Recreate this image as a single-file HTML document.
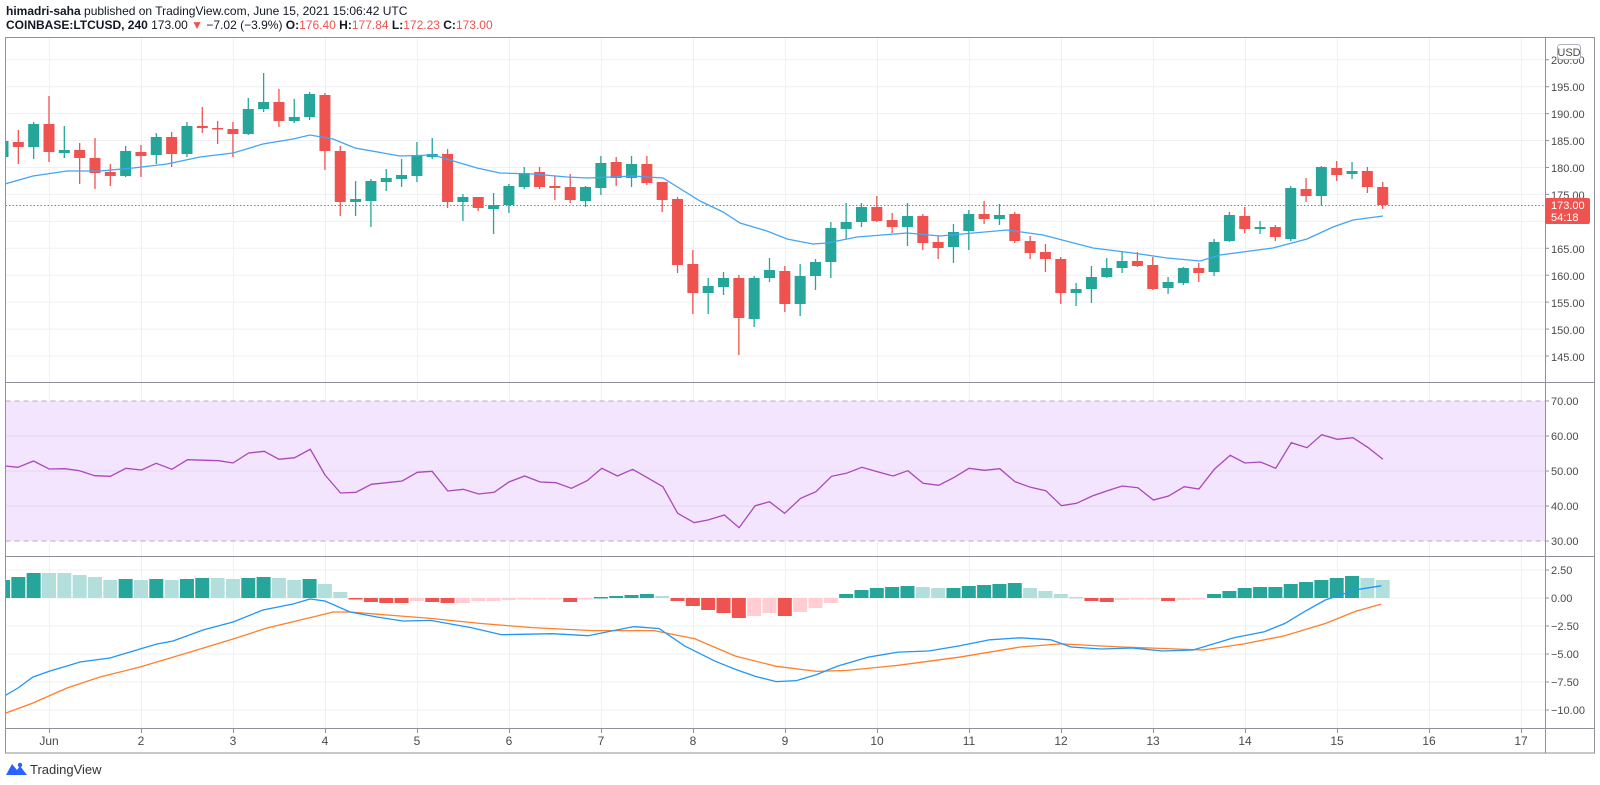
<!DOCTYPE html>
<html><head><meta charset="utf-8"><style>
html,body{margin:0;padding:0;background:#fff;width:1600px;height:785px;overflow:hidden}
svg{position:absolute;left:0;top:0}
text{font-family:"Liberation Sans",sans-serif}
</style></head><body>
<svg id="s" width="1600" height="785" viewBox="0 0 1600 785" xmlns="http://www.w3.org/2000/svg">
<defs>
<clipPath id="cm"><rect x="5.5" y="37" width="1539.5" height="345.5"/></clipPath>
<clipPath id="cr"><rect x="5.5" y="383" width="1539.5" height="172.5"/></clipPath>
<clipPath id="cd"><rect x="5.5" y="556.5" width="1539.5" height="171"/></clipPath>
</defs>
<rect x="5.5" y="37" width="1589" height="716" fill="#fff"/>
<g id="grid"></g>
<rect x="5.5" y="401" width="1539.5" height="140" fill="#f3e5fd"/>
<g id="rgrid"></g>
<line x1="5.5" y1="401" x2="1545" y2="401" stroke="#b8a8c0" stroke-dasharray="5,4"/>
<line x1="5.5" y1="541" x2="1545" y2="541" stroke="#b8a8c0" stroke-dasharray="5,4"/>
<g id="main" clip-path="url(#cm)"></g>
<g id="rsi" clip-path="url(#cr)"></g>
<g id="macd" clip-path="url(#cd)"></g>
<line x1="5.5" y1="205.5" x2="1545" y2="205.5" stroke="#ef5350" stroke-dasharray="1.5,2" stroke-width="1"/>
<!-- frame -->
<g stroke="#8f919a" stroke-width="1" fill="none">
<rect x="5.5" y="37.5" width="1589" height="715.5"/>
<line x1="1545.5" y1="37" x2="1545.5" y2="753"/>
<line x1="5.5" y1="382.5" x2="1594" y2="382.5"/>
<line x1="5.5" y1="556.5" x2="1594" y2="556.5"/>
<line x1="5.5" y1="728.5" x2="1594" y2="728.5"/>
</g>
<g id="ticks" stroke="#8f919a"></g>
<g font-size="11" fill="#4a4a4a">
<text x="1551" y="64">200.00</text><text x="1551" y="91">195.00</text><text x="1551" y="118">190.00</text><text x="1551" y="145">185.00</text><text x="1551" y="172">180.00</text><text x="1551" y="199">175.00</text><text x="1551" y="253">165.00</text><text x="1551" y="280">160.00</text><text x="1551" y="307">155.00</text><text x="1551" y="334">150.00</text><text x="1551" y="361">145.00</text>
<text x="1551" y="405">70.00</text><text x="1551" y="440">60.00</text><text x="1551" y="475">50.00</text><text x="1551" y="510">40.00</text><text x="1551" y="545">30.00</text>
<text x="1551" y="574">2.50</text><text x="1551" y="602">0.00</text><text x="1551" y="630">−2.50</text><text x="1551" y="658">−5.00</text><text x="1551" y="686">−7.50</text><text x="1551" y="714">−10.00</text>
</g>
<rect x="1557.5" y="44.5" width="23" height="15" rx="3" fill="#fff" stroke="#b0b3bb"/>
<text x="1569" y="56" font-size="11" fill="#4a4a4a" text-anchor="middle">USD</text>
<rect x="1545" y="198" width="45" height="26" rx="2" fill="#ef5350"/>
<text x="1551" y="209" font-size="11" fill="#fff">173.00</text>
<text x="1551" y="221" font-size="11" fill="#fff">54:18</text>
<g font-size="12" fill="#4a4a4a" text-anchor="middle">
<text x="49" y="745">Jun</text><text x="141" y="745">2</text><text x="233" y="745">3</text><text x="325" y="745">4</text><text x="417" y="745">5</text><text x="509" y="745">6</text><text x="601" y="745">7</text><text x="693" y="745">8</text><text x="785" y="745">9</text><text x="877" y="745">10</text><text x="969" y="745">11</text><text x="1061" y="745">12</text><text x="1153" y="745">13</text><text x="1245" y="745">14</text><text x="1337" y="745">15</text><text x="1429" y="745">16</text><text x="1521" y="745">17</text>
</g>
<text x="6" y="15" font-size="12" fill="#131722"><tspan font-weight="bold">himadri-saha</tspan> published on TradingView.com, June 15, 2021 15:06:42 UTC</text>
<text x="6" y="29" font-size="12" fill="#131722"><tspan font-weight="bold">COINBASE:LTCUSD, 240</tspan> 173.00 <tspan fill="#ef5350">▼</tspan> −7.02 (−3.9%) <tspan font-weight="bold">O:</tspan><tspan fill="#ef5350">176.40</tspan> <tspan font-weight="bold">H:</tspan><tspan fill="#ef5350">177.84</tspan> <tspan font-weight="bold">L:</tspan><tspan fill="#ef5350">172.23</tspan> <tspan font-weight="bold">C:</tspan><tspan fill="#ef5350">173.00</tspan></text>
<path d="M6 775 L12 764 L17 770 L20 766 L27 775 Z" fill="#2962ff"/>
<circle cx="20" cy="765" r="2.2" fill="#2962ff"/>
<text x="30" y="774" font-size="13" fill="#333">TradingView</text>
</svg>
<script>
var NS="http://www.w3.org/2000/svg";
function el(p,t,a){var e=document.createElementNS(NS,t);for(var k in a)e.setAttribute(k,a[k]);document.getElementById(p).appendChild(e);return e;}
var days=[49,141,233,325,417,509,601,693,785,877,969,1061,1153,1245,1337,1429,1521];
days.forEach(function(x){el('grid','line',{x1:x+.5,y1:37,x2:x+.5,y2:728,stroke:'#eef0f6'});el('ticks','line',{x1:x+.5,y1:728,x2:x+.5,y2:733});});
for(var p=145;p<=200;p+=5){var y=86.7+(195-p)*5.386;el('grid','line',{x1:5,y1:y,x2:1545,y2:y,stroke:'#eef0f6'});el('ticks','line',{x1:1545,y1:y,x2:1549,y2:y});}
[436,471,506].forEach(function(y){el('rgrid','line',{x1:5,y1:y,x2:1545,y2:y,stroke:'#e6d5f2'});});
[401,436,471,506,541].forEach(function(y){el('ticks','line',{x1:1545,y1:y,x2:1549,y2:y});});
[570,598,626,654,682,710].forEach(function(y){el('grid','line',{x1:5,y1:y,x2:1545,y2:y,stroke:'#eef0f6'});el('ticks','line',{x1:1545,y1:y,x2:1549,y2:y});});
var C="g 141 157 138 160|r 142 147 130 164|g 124 147 122 159|r 124 152 96 162|g 150 153 126 158|r 150 158 143 184|r 158 173 138 189|r 172 176 164 186|g 151 176 146 177|r 152 156 145 177|g 137 155 133 164|r 137 154 132 167|g 126 154 122 157|r 126 128 107 133|r 128 129 121 144|r 129 134 122 157|g 109 134 98 135|g 102 109 73 112|r 102 121 89 127|g 117 121 99 123|g 94 117 92 120|r 95 151 93 170|r 151 202 146 216|g 199 202 181 216|g 181 201 179 227|g 178 182 169 191|g 175 179 159 187|g 156 176 142 182|g 154 157 138 159|r 154 202 149 208|g 197 202 194 221|r 197 208 197 211|g 205 209 193 234|g 186 205 184 213|g 173 187 167 189|r 172 187 167 189|r 186 188 176 200|r 187 200 174 203|g 187 201 186 207|g 163 188 156 195|r 162 178 157 186|g 164 178 156 187|r 164 183 156 185|r 182 200 182 212|r 199 265 197 273|r 264 293 250 314|g 286 293 278 314|g 278 287 272 295|r 278 318 275 355|g 278 319 276 327|g 270 278 258 282|r 271 304 266 312|g 276 304 264 316|g 262 276 259 290|g 228 262 222 278|g 222 229 203 239|g 207 222 203 227|r 207 221 196 222|r 220 227 213 233|g 216 227 203 246|r 216 243 214 250|r 242 248 236 259|g 232 247 224 263|g 214 231 210 250|r 214 219 201 224|g 215 219 204 225|r 214 241 212 243|r 241 253 236 259|r 252 259 244 272|r 259 293 257 304|g 289 293 283 306|g 277 289 266 303|g 268 277 258 278|g 261 268 252 273|r 261 266 252 267|r 265 289 257 290|g 282 288 277 294|g 268 283 267 285|r 268 273 263 282|g 242 272 239 276|g 215 241 212 242|r 216 229 207 233|g 227 229 221 234|r 227 237 225 241|g 188 239 186 241|r 189 196 178 202|g 167 196 166 206|r 168 175 161 181|g 171 174 162 179|r 171 187 167 193|r 187 205 182 209".split('|');
function X(i){return 3+15.33*i;}
C.forEach(function(s,i){var a=s.split(' '),c=a[0]=='g'?'#26a69a':'#ef5350';var x=X(i);
el('main','line',{x1:x,y1:+a[3],x2:x,y2:+a[4],stroke:c,'stroke-width':1.3});
var h=Math.max(1.5,a[2]-a[1]);el('main','rect',{x:x-5.5,y:+a[1],width:11,height:h,fill:c});});
var ma=[[5,184],[33,176],[67,171],[100,171],[133,168],[167,164],[200,157],[233,153],[263,144],[293,139],[310,135],[333,139],[355,148],[400,156],[433,155],[477,168],[500,173],[533,174],[567,177],[587,178],[633,176],[663,178],[700,201],[723,212],[740,223],[767,231],[787,239],[813,244],[827,243],[857,237],[907,233],[940,236],[1007,230],[1043,235],[1093,248],[1133,253],[1167,258],[1200,261],[1220,255],[1273,248],[1307,239],[1333,227],[1353,220],[1383,216]];
el('main','polyline',{points:ma.join(' '),fill:'none',stroke:'#42a5f5','stroke-width':1.3});
var r1=[[12,228],[40,232],[75,213],[110,237],[145,236],[178,242],[212,257],[247,259],[282,235],[317,240],[350,220],[385,238],[420,209],[490,212],[522,219],[557,189],[592,184],[625,208],[660,203],[695,178],[728,255],[763,309],[797,307],[832,283],[866,278],[901,273],[935,247],[968,244],[1003,303],[1038,298],[1072,312],[1107,307],[1140,276],[1175,258],[1210,276],[1245,278],[1280,295],[1315,272],[1348,235],[1383,258],[1417,238],[1450,263],[1485,290],[1518,370],[1555,398]];
var r2=[[40,390],[77,375],[110,413],[146,347],[178,335],[212,370],[248,325],[282,305],[317,259],[350,250],[385,232],[420,245],[455,258],[488,242],[522,280],[557,286],[592,262],[625,235],[660,241],[694,236],[728,275],[763,292],[797,302],[832,347],[866,340],[901,318],[935,302],[968,288],[1003,293],[1038,330],[1072,318],[1107,290],[1140,297],[1175,237],[1210,196],[1243,219],[1278,216],[1312,235],[1347,158],[1382,173],[1415,134],[1450,148],[1485,143],[1518,172],[1552,208]];
var rp=[];r1.forEach(function(q){rp.push([q[0]/2.24,390+q[1]/3]);});r2.forEach(function(q){rp.push([690+q[0]/2.24,390+q[1]/3]);});
rp.unshift([0,rp[0][1]]);
el('rsi','polyline',{points:rp.map(function(q){return q[0].toFixed(1)+','+q[1].toFixed(1)}).join(' '),fill:'none',stroke:'#ab47bc','stroke-width':1.3});
var H=[18,21,25,25,25,23,21,18,19,18,19,18,19,20,20,19,20,21,20,18,19,14,6,-1,-4,-5,-5,-3,-4,-5,-5,-3,-3,-2,-1,-1,-1,-4,-1,1,2,3,4,2,-3,-8,-12,-15,-20,-18,-15,-18,-14,-10,-5,4,8,10,11,12,11,10,10,12,13,14,15,10,7,4,1,-3,-4,-2,-1,-1,-3,-2,-1,4,7,10,11,11,14,16,18,20,22,20,18];
var cols="ddd lllll d l d l d d l l d d l l d l l".replace(/ /g,'');
H.forEach(function(v,i){var pv=i?H[i-1]:v-1,c;
if(i<cols.length){c=cols[i]=='d'?'#26a69a':'#b2dfdb';}
else if(v>=0){c=v>=pv?'#26a69a':'#b2dfdb';}else{c=v<pv?'#ef5350':'#ffcdd2';}
if(i>=23&&i<27)c='#ef5350';if(i==27)c='#ffcdd2';
var x=X(i);el('macd','rect',{x:x-7,y:v>0?598-v:598,width:14,height:Math.max(1.5,Math.abs(v)),fill:c});});
var bz=[[6,695],[18,688],[33,677],[50,671],[67,666],[80,662],[110,658],[140,649],[157,644],[173,641],[203,630],[233,622],[263,610],[293,604],[310,599],[325,601],[350,612],[377,617],[403,621]];
var be=[[420,607],[460,614],[490,621],[540,620],[575,622],[600,617],[620,613],[645,615],[670,632],[700,647],[720,655],[740,662],[760,667],[780,666],[800,660],[820,652],[850,643],[880,638],[910,637],[940,632],[970,626],[1000,624],[1030,626],[1050,633],[1080,635],[1110,634],[1140,637],[1170,636],[1190,630],[1210,624],[1240,618],[1260,610],[1280,598],[1300,587],[1330,577],[1355,573]];
var oz=[[6,713],[33,703],[67,688],[100,677],[140,667],[187,653],[233,639],[267,628],[317,616],[333,612],[350,612],[400,616]];
var oe=[[420,605],[470,610],[520,614],[580,617],[640,617],[680,625],[720,642],[760,652],[800,657],[830,656],[880,651],[940,643],[1000,633],[1040,630],[1100,633],[1180,636],[1220,630],[1260,622],[1300,610],[1330,598],[1355,591]];
function cv(a){return a.map(function(q){return [49+(q[0]-45)*1.017,598+(q[1]-585)*1.02];});}
function pts(a){return a.map(function(q){return q[0].toFixed(1)+','+q[1].toFixed(1)}).join(' ');}
var bl=[[0,698]].concat(bz,cv(be)),ol=[[0,716]].concat(oz,cv(oe));
el('macd','polyline',{points:pts(ol),fill:'none',stroke:'#ff7f2a','stroke-width':1.3});
el('macd','polyline',{points:pts(bl),fill:'none',stroke:'#2196f3','stroke-width':1.3});
</script>
</body></html>
